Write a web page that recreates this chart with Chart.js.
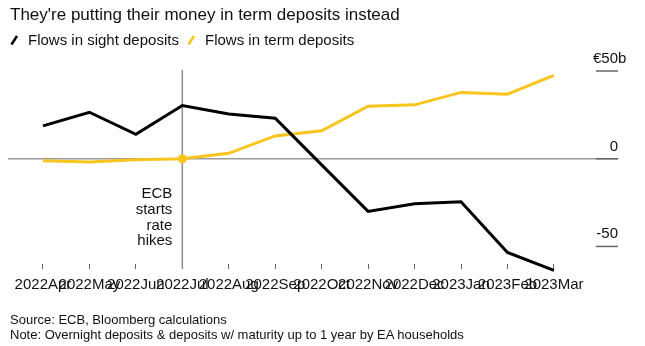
<!DOCTYPE html>
<html>
<head>
<meta charset="utf-8">
<script src="https://cdn.jsdelivr.net/npm/chart.js@4.4.0/dist/chart.umd.min.js"></script>
<style>
    body { margin: 0; background: #fff; font-family: "Liberation Sans", Arial, sans-serif; color: #111; }
    #wrap { position: relative; width: 645px; height: 346px; overflow: hidden; }
    #chart { position: absolute; left: 0; top: 0; }
    .title { position: absolute; left: 10px; top: 5px; font-size: 17px; line-height: 20px; white-space: nowrap; }
    .legend { position: absolute; top: 31px; font-size: 15px; line-height: 18px; white-space: nowrap; }
    .legend svg { position: absolute; left: 0; top: 3px; }
    .legend span { position: absolute; left: 18px; top: 0; }
    .footer { position: absolute; left: 10px; top: 312px; font-size: 13px; line-height: 15px; white-space: nowrap; }
</style>
</head>
<body>
<div id="wrap">
    <canvas id="chart" width="645" height="346"></canvas>
    <div class="title">They're putting their money in term deposits instead</div>
    <div class="legend" style="left:10px">
        <svg width="9" height="12"><line x1="1.5" y1="10.5" x2="7" y2="2" stroke="#000" stroke-width="2.5"/></svg>
        <span>Flows in sight deposits</span>
    </div>
    <div class="legend" style="left:187px">
        <svg width="9" height="12"><line x1="1.5" y1="10.5" x2="7" y2="2" stroke="#f8c41d" stroke-width="2.5"/></svg>
        <span>Flows in term deposits</span>
    </div>
    <div class="footer">Source: ECB, Bloomberg calculations<br>Note: Overnight deposits &amp; deposits w/ maturity up to 1 year by EA households</div>
</div>
<script>
// Data (EUR billions, monthly flows)
const months = ['2022Apr', '2022May', '2022Jun', '2022Jul', '2022Aug', '2022Sep',
    '2022Oct', '2022Nov', '2022Dec', '2023Jan', '2023Feb', '2023Mar'];
const sightFlows = [18.7, 26.5, 13.9, 30.3, 25.5, 23.1, -3.5, -30.0, -25.7, -24.5, -53.4, -63.6];
const termFlows = [-1.1, -1.9, -0.6, 0, 3.1, 13.0, 15.9, 29.9, 30.7, 37.8, 36.8, 47.5];
const yTicks = [50, 0, -50];
const yTickLabels = ['€50', '0', '-50'];
const hikeIndex = 3; // ECB starts rate hikes (2022Jul)
const hikeNote = ['ECB', 'starts', 'rate', 'hikes'];

const FONT = '"Liberation Sans", Arial, sans-serif';

// zero line, rate hike marker, right-hand value ticks and the note
const decorations = {
    id: 'decorations',
    beforeDatasetsDraw(chart) {
        const { ctx, chartArea: a, scales: { x, y } } = chart;
        ctx.save();
        const y0 = y.getPixelForValue(0);
        ctx.strokeStyle = '#999';
        ctx.lineWidth = 1.5;
        ctx.beginPath();
        ctx.moveTo(a.left, y0);
        ctx.lineTo(a.right, y0);
        ctx.stroke();

        const xm = x.getPixelForValue(hikeIndex);
        ctx.strokeStyle = '#8a8a8a';
        ctx.beginPath();
        ctx.moveTo(xm, a.top - 1);
        ctx.lineTo(xm, a.bottom + 5);
        ctx.stroke();

        ctx.font = '15px ' + FONT;
        ctx.fillStyle = '#111';
        ctx.textBaseline = 'alphabetic';
        yTicks.forEach((v, i) => {
            const py = y.getPixelForValue(v);
            ctx.strokeStyle = '#666';
            ctx.lineWidth = 1.5;
            ctx.beginPath();
            ctx.moveTo(a.right - 22, py);
            ctx.lineTo(a.right, py);
            ctx.stroke();
            ctx.textAlign = 'right';
            ctx.fillText(yTickLabels[i], a.right, py - 8);
            if (i === 0) {
                ctx.textAlign = 'left';
                ctx.fillText('b', a.right, py - 8);
            }
        });

        ctx.textAlign = 'right';
        hikeNote.forEach((line, i) => {
            ctx.fillText(line, xm - 10, y0 + 39.5 + i * 15.7);
        });
        ctx.restore();
    }
};

new Chart(document.getElementById('chart'), {
    type: 'line',
    data: {
        datasets: [
            {
                label: 'Flows in sight deposits',
                data: sightFlows.map((v, i) => ({ x: i, y: v })),
                borderColor: '#000',
                borderWidth: 3,
                pointRadius: 0,
                tension: 0,
                clip: false
            },
            {
                label: 'Flows in term deposits',
                data: termFlows.map((v, i) => ({ x: i, y: v })),
                borderColor: '#f8c41d',
                backgroundColor: '#f8c41d',
                borderWidth: 3,
                pointRadius: termFlows.map((v, i) => i === hikeIndex ? 4.5 : 0),
                pointBorderWidth: 0,
                tension: 0,
                clip: false
            }
        ]
    },
    options: {
        responsive: false,
        animation: false,
        devicePixelRatio: 1,
        layout: { padding: { left: 8, right: 27, top: 71, bottom: 45 } },
        plugins: { legend: { display: false }, tooltip: { enabled: false } },
        scales: {
            x: {
                type: 'linear',
                min: -0.753,
                max: 12.38,
                afterBuildTicks: s => { s.ticks = months.map((m, i) => ({ value: i })); },
                ticks: {
                    callback: v => months[v],
                    autoSkip: false,
                    maxRotation: 0,
                    minRotation: 0,
                    color: '#111',
                    padding: 7,
                    font: { size: 15, family: FONT }
                },
                grid: { drawOnChartArea: false, drawTicks: true, tickLength: 5, color: '#666', lineWidth: 1 },
                border: { display: false }
            },
            y: {
                display: false,
                min: -60,
                max: 50
            }
        }
    },
    plugins: [decorations]
});
</script>
</body>
</html>
